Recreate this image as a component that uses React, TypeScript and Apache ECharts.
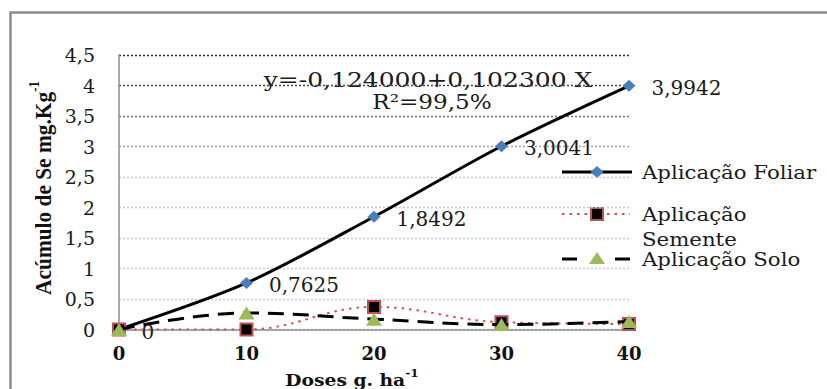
import React, { useEffect, useRef } from 'react';
import * as echarts from 'echarts';

// ---- data ----
const doses = [0, 10, 20, 30, 40];
const foliar = [0, 0.7625, 1.8492, 3.0041, 3.9942];
const semente = [0, 0, 0.37, 0.12, 0.09];
const solo = [0, 0.27, 0.17, 0.08, 0.13];
const seriesNames = ['Aplicação Foliar', 'Aplicação Semente', 'Aplicação Solo'];
const yTickLabels = ['0', '0,5', '1', '1,5', '2', '2,5', '3', '3,5', '4', '4,5'];
const xTickLabels = ['0', '10', '20', '30', '40'];
const equationText = 'y=-0,124000+0,102300 X';
const r2Text = 'R²=99,5%';
const xTitle = 'Doses g. ha';
const yTitle = 'Acúmulo de Se mg.Kg';
const titleSup = '-1';

const fmt = (v: number) => String(v).replace('.', ',');

const SERIF = '"DejaVu Serif"';
const gridColors = ['#b7c9e6', '#b7c9e6', '#b7c9e6', '#b7c9e6', '#b7c9e6', '#b7c9e6', '#95a6c6', '#66708f', '#3f4458', '#2a2d3a'];

export default function App() {
  const ref = useRef<HTMLDivElement>(null);
  useEffect(() => {
    if (!ref.current) return;
    const chart = echarts.init(ref.current, null, { renderer: 'svg' });
    const legendText = (text: string, x: number, y: number, lh?: number) => ({
      type: 'text', x, y, scaleX: 1.12, silent: true,
      style: {
        text, fontFamily: SERIF, fontSize: 19, fill: '#1a1a1a',
        align: 'left', verticalAlign: lh ? 'top' : 'middle',
        textAlign: 'left', textVerticalAlign: lh ? 'top' : 'middle',
        lineHeight: lh || 22,
      },
    });
    const option: any = {
      animation: false,
      backgroundColor: '#ffffff',
      grid: { left: 119, right: 198, top: 55, bottom: 59.5, containLabel: false },
      xAxis: {
        type: 'value', min: 0, max: 40, interval: 10,
        axisLine: { show: true, lineStyle: { color: '#8c8c8c', width: 1.5 } },
        axisTick: { show: false },
        splitLine: { show: false },
        axisLabel: {
          formatter: (v: number) => xTickLabels[doses.indexOf(v)] ?? String(v),
          fontFamily: SERIF, fontWeight: 'bold', fontSize: 18, color: '#111', margin: 15,
        },
      },
      yAxis: {
        type: 'value', min: 0, max: 4.5, interval: 0.5,
        axisLine: { show: true, lineStyle: { color: '#8c8c8c', width: 1.5 } },
        axisTick: { show: false },
        splitLine: { show: true, lineStyle: { type: [2, 2], width: 1.3, color: gridColors } },
        axisLabel: {
          formatter: (v: number) => yTickLabels[Math.round(v * 2)] ?? fmt(v),
          fontFamily: SERIF, fontSize: 19, color: '#1a1a1a', margin: 24,
        },
      },
      series: [
        {
          name: seriesNames[0], type: 'line', smooth: 0.3,
          data: doses.map((d, i) => [d, foliar[i]]),
          symbol: 'diamond', symbolSize: [13, 12],
          itemStyle: { color: '#4a7ebb' },
          lineStyle: { color: '#000', width: 3 },
          label: {
            show: true, position: 'right', distance: 16, offset: [0, 2],
            formatter: (p: any) => fmt(p.value[1]),
            fontFamily: SERIF, fontSize: 20, color: '#1a1a1a',
          },
          z: 3,
        },
        {
          name: seriesNames[1], type: 'line', smooth: 0.4,
          data: doses.map((d, i) => [d, semente[i]]),
          symbol: 'rect', symbolSize: 12,
          itemStyle: { color: '#000', borderColor: '#c0504d', borderWidth: 2 },
          lineStyle: { color: '#d0504d', width: 2, type: [2.5, 5] },
          z: 4,
        },
        {
          name: seriesNames[2], type: 'line', smooth: 0.4,
          data: doses.map((d, i) => [d, solo[i]]),
          symbol: 'triangle', symbolSize: [16, 13],
          itemStyle: { color: '#9bbb59' },
          lineStyle: { color: '#000', width: 3, type: [16, 9] },
          z: 5,
        },
      ],
      graphic: [
        { type: 'rect', silent: true, shape: { x: 10.5, y: 12.5, width: 900, height: 500 }, style: { fill: 'none', stroke: '#8c8c8c', lineWidth: 2.5 } },
        {
          type: 'text', x: 428, y: 80, scaleX: 1.19, silent: true,
          style: { text: equationText, fontFamily: SERIF, fontSize: 21, fill: '#1a1a1a', align: 'center', verticalAlign: 'middle', textAlign: 'center', textVerticalAlign: 'middle' },
        },
        {
          type: 'text', x: 432, y: 102, scaleX: 1.1, silent: true,
          style: { text: r2Text, fontFamily: SERIF, fontSize: 21, fill: '#1a1a1a', align: 'center', verticalAlign: 'middle', textAlign: 'center', textVerticalAlign: 'middle' },
        },
        // legend: foliar
        { type: 'line', silent: true, shape: { x1: 562, y1: 172, x2: 632, y2: 172 }, style: { stroke: '#000', lineWidth: 3 } },
        { type: 'polygon', silent: true, shape: { points: [[597, 166], [603.5, 172], [597, 178], [590.5, 172]] }, style: { fill: '#4a7ebb' } },
        legendText(seriesNames[0], 642, 172),
        // legend: semente
        { type: 'line', silent: true, shape: { x1: 562, y1: 214, x2: 630, y2: 214 }, style: { stroke: '#d0504d', lineWidth: 2, lineDash: [2.5, 5] } },
        { type: 'rect', silent: true, shape: { x: 591, y: 208, width: 12, height: 12 }, style: { fill: '#000', stroke: '#c0504d', lineWidth: 2 } },
        legendText(seriesNames[1].replace(' ', '\n'), 642, 201.5, 25),
        // legend: solo
        { type: 'line', silent: true, shape: { x1: 562, y1: 259, x2: 632, y2: 259 }, style: { stroke: '#000', lineWidth: 3, lineDash: [15, 38] } },
        { type: 'polygon', silent: true, shape: { points: [[597, 252], [605, 264], [589, 264]] }, style: { fill: '#9bbb59' } },
        legendText(seriesNames[2], 642, 259),
        // axis titles
        {
          type: 'text', x: 352, y: 378, scaleX: 1.1, silent: true,
          style: {
            text: `{b|${xTitle}}{s|${titleSup}}`,
            align: 'center', verticalAlign: 'middle', textAlign: 'center', textVerticalAlign: 'middle',
            rich: {
              b: { fontFamily: SERIF, fontWeight: 'bold', fontSize: 17, fill: '#111', color: '#111', lineHeight: 21, verticalAlign: 'bottom' },
              s: { fontFamily: SERIF, fontWeight: 'bold', fontSize: 11, fill: '#111', color: '#111', lineHeight: 21, verticalAlign: 'top' },
            },
          },
        },
        {
          type: 'text', x: 41, y: 188, rotation: Math.PI / 2, scaleX: 0.93, silent: true,
          style: {
            text: `{b|${yTitle}}{s|${titleSup}}`,
            align: 'center', verticalAlign: 'middle', textAlign: 'center', textVerticalAlign: 'middle',
            rich: {
              b: { fontFamily: '"Liberation Serif"', fontWeight: 'bold', fontSize: 23, fill: '#111', color: '#111', lineHeight: 27, verticalAlign: 'bottom' },
              s: { fontFamily: '"Liberation Serif"', fontWeight: 'bold', fontSize: 14, fill: '#111', color: '#111', lineHeight: 27, verticalAlign: 'top' },
            },
          },
        },
      ],
    };
    chart.setOption(option);
    return () => chart.dispose();
  }, []);
  return <div ref={ref} style={{ position: 'absolute', left: 0, top: 0, width: 827, height: 389 }} />;
}
